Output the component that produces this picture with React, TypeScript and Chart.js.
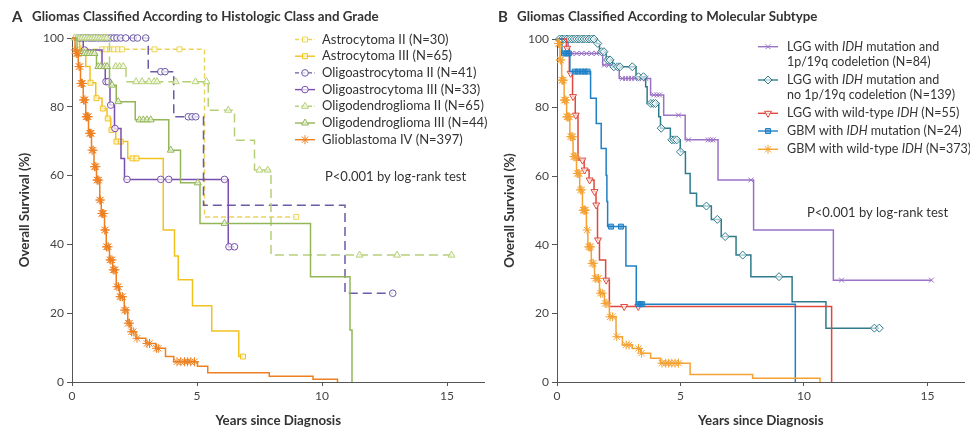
import React, { useEffect, useRef } from "react";
import { Chart, registerables } from "chart.js";
import { drawPoint } from "chart.js/helpers";

Chart.register(...registerables);

const FONT = "Lato, 'Noto Sans', sans-serif";
const TEXT = "#333333";
const AXIS = "#555555";

const xTickValues = [0, 5, 10, 15];
const yTickValues = [0, 20, 40, 60, 80, 100];
const xMax = 16.5;
const xTitle = "Years since Diagnosis";
const yTitle = "Overall Survival (%)";
const pText = "P<0.001 by log-rank test";

// ---------- Panel A: histologic class and grade ----------
const astro2T = [0, 0.35, 5.3, 8.97];
const astro2S = [100, 96.7, 48, 48];
const astro2C = [1.2, 1.37, 1.52, 1.68, 1.84, 2.0, 3.3, 4.3, 8.97];

const astro3T = [0, 0.3, 0.55, 0.72, 0.95, 1.2, 1.4, 1.55, 1.75, 2.23, 3.65, 4.1, 4.25, 4.82, 5.59, 6.67, 6.84];
const astro3S = [100, 96.9, 91.7, 87, 82.5, 79.5, 76.6, 73.3, 69.9, 65, 44.2, 36.6, 29.7, 22.2, 14.8, 7.4, 7.4];
const astro3C = [0.74, 0.98, 1.23, 1.43, 1.58, 1.78, 1.95, 2.42, 2.58, 6.84];

const oastro2T = [0, 3.05, 4.07, 5.26, 10.92, 12.83];
const oastro2S = [100, 90.2, 77.1, 51.4, 25.8, 25.8];
const oastro2C = [0.3, 0.42, 0.55, 0.68, 0.8, 0.92, 1.05, 1.18, 1.3, 1.42, 1.55, 1.68, 1.8, 1.95, 2.15, 2.45, 2.62, 2.95, 3.55, 3.72, 4.65, 4.8, 4.95, 12.83];

const oastro3T = [0, 0.45, 1.2, 1.33, 1.52, 1.7, 1.96, 2.1, 6.25, 6.5];
const oastro3S = [100, 96.5, 91.7, 87.3, 80.5, 73.7, 65, 58.9, 39.3, 39.3];
const oastro3C = [0.5, 1.36, 1.45, 1.55, 1.72, 2.2, 3.55, 3.87, 6.1, 6.28, 6.5];

const odendro2T = [0, 1.5, 2.16, 5.45, 6.5, 7.3, 7.96, 15.18];
const odendro2S = [100, 91.7, 87.3, 79, 70.3, 61.6, 36.9, 36.9];
const odendro2C = [0.1, 0.2, 0.3, 0.4, 0.5, 0.6, 0.7, 0.8, 0.9, 1.0, 1.1, 1.2, 1.3, 1.4, 1.75, 1.9, 2.05, 2.56, 2.8, 3.08, 3.28, 3.4, 4.15, 4.94, 5.38, 6.25, 7.5, 7.83, 11.5, 13.0, 15.18];

const odendro3T = [0, 0.2, 0.98, 1.5, 1.77, 2.53, 3.87, 4.34, 5.12, 9.54, 11.12, 11.2];
const odendro3S = [100, 95.5, 91.7, 86.3, 81.5, 76.2, 67.4, 57.9, 46.1, 30.6, 15.1, 0];
const odendro3C = [0.3, 0.4, 0.5, 0.6, 0.7, 0.8, 0.9, 1.05, 1.15, 1.3, 1.4, 1.6, 1.85, 2.7, 2.85, 3.0, 3.15, 3.95, 5.03, 6.1];

const glioT = [0, 0.12, 0.16, 0.25, 0.34, 0.45, 0.55, 0.66, 0.78, 0.88, 0.98, 1.11, 1.17, 1.3, 1.37, 1.5, 1.63, 1.77, 1.9, 2.09, 2.23, 2.36, 2.56, 2.95, 3.35, 3.74, 4.07, 5.02, 5.43, 7.89, 9.64, 10.62];
const glioS = [100, 96.5, 95.5, 91.7, 86.8, 82, 77.1, 72.3, 67.4, 62.6, 58.7, 52.9, 49, 44.2, 39.3, 35.5, 32.6, 27.7, 24.8, 20.9, 17.1, 14.6, 12.7, 11.2, 9.8, 7.4, 5.9, 4.6, 2.7, 1.7, 0.8, 0];
const glioC = [0.13, 0.17, 0.2, 0.24, 0.28, 0.32, 0.36, 0.38, 0.42, 0.46, 0.48, 0.52, 0.56, 0.58, 0.62, 0.65, 0.7, 0.74, 0.77, 0.8, 0.85, 0.9, 0.92, 0.96, 1.0, 1.02, 1.07, 1.11, 1.14, 1.19, 1.22, 1.27, 1.31, 1.33, 1.38, 1.4, 1.45, 1.52, 1.55, 1.6, 1.65, 1.68, 1.72, 1.8, 1.86, 1.92, 1.95, 2.02, 2.1, 2.15, 2.25, 2.3, 2.38, 2.45, 2.6, 3.0, 3.1, 3.38, 3.45, 4.2, 4.35, 4.5, 4.62, 4.75, 4.9];

// ---------- Panel B: molecular subtype ----------
const codelT = [0, 0.45, 1.85, 2.52, 3.79, 4.32, 5.19, 6.52, 7.96, 11.19, 15.16];
const codelS = [100, 95.8, 92.4, 88.5, 83.7, 77.8, 70.6, 58.9, 44.3, 29.7, 29.7];
const codelC = [0.6, 0.8, 1.0, 1.2, 1.4, 1.6, 1.92, 2.1, 2.65, 2.78, 2.9, 3.02, 3.15, 3.3, 3.45, 3.6, 3.92, 4.05, 4.15, 4.92, 5.32, 6.12, 6.22, 6.32, 7.85, 11.52, 15.16];

const nocodelT = [0, 1.6, 1.72, 1.99, 2.25, 3.2, 3.59, 3.65, 4.12, 4.19, 4.59, 4.99, 5.2, 5.39, 5.65, 6.25, 6.65, 7.25, 7.85, 9.52, 10.89, 13.05];
const nocodelS = [100, 98.7, 96.3, 93.9, 91.9, 89, 86.1, 81.2, 77.3, 74, 70.6, 67.1, 60.8, 55, 51.3, 47.4, 42.4, 37, 30.7, 23.4, 15.7, 15.7];
const nocodelC = [0.1, 0.2, 0.3, 0.4, 0.5, 0.6, 0.7, 0.8, 0.9, 1.0, 1.1, 1.2, 1.3, 1.4, 1.5, 1.65, 1.8, 1.9, 2.05, 2.15, 2.3, 2.45, 2.55, 3.05, 3.3, 3.5, 3.8, 3.9, 3.99, 4.22, 4.65, 4.75, 4.85, 5.0, 6.05, 6.49, 6.81, 7.52, 8.99, 12.85, 13.05];

const wtT = [0, 0.38, 0.5, 0.63, 0.74, 0.85, 1.1, 1.3, 1.5, 1.58, 1.64, 1.72, 1.97, 2.12, 11.12];
const wtS = [100, 97.3, 90, 83.2, 77.8, 64.7, 61.8, 58.9, 55.5, 51.6, 41.4, 35.6, 29.7, 22.0, 0];
const wtC = [0.41, 0.55, 0.65, 0.76, 1.03, 1.12, 1.32, 1.52, 1.59, 1.66, 1.99, 2.72, 3.29];

const gbmMutT = [0, 0.2, 0.52, 1.36, 1.59, 1.79, 1.99, 2.02, 2.05, 2.79, 3.21, 9.65];
const gbmMutS = [100, 95.8, 90.5, 82.7, 75.4, 68.1, 60.3, 52.6, 45.3, 33.8, 22.7, 0];
const gbmMutC = [0.28, 0.38, 0.48, 0.72, 0.85, 1.0, 1.12, 1.24, 2.19, 2.59, 3.3, 3.38, 3.45];

const gbmWtT = [0, 0.04, 0.12, 0.19, 0.29, 0.39, 0.52, 0.65, 0.79, 0.92, 1.03, 1.19, 1.25, 1.39, 1.52, 1.72, 1.92, 2.12, 2.39, 2.65, 3.05, 3.39, 3.79, 4.19, 5.39, 7.92, 10.65];
const gbmWtS = [100, 98.7, 93.9, 88, 82.2, 77.3, 71.5, 65.7, 60.8, 56, 50.1, 44.3, 39.4, 34.6, 30.2, 25.9, 22.9, 19, 13.2, 10.8, 9.8, 8.4, 6.9, 5.5, 2.2, 1.1, 0];
const gbmWtC = [0.06, 0.1, 0.13, 0.15, 0.2, 0.22, 0.26, 0.3, 0.32, 0.36, 0.4, 0.42, 0.46, 0.5, 0.55, 0.6, 0.64, 0.68, 0.72, 0.76, 0.82, 0.86, 0.9, 0.95, 1.0, 1.06, 1.1, 1.12, 1.15, 1.22, 1.28, 1.32, 1.36, 1.42, 1.47, 1.55, 1.62, 1.68, 1.76, 1.83, 1.95, 2.02, 2.15, 2.25, 2.42, 2.8, 2.92, 3.3, 3.42, 4.25, 4.4, 4.52, 4.65, 4.78, 4.92];

type Curve = {
  label: string[];
  T: number[];
  S: number[];
  C: number[];
  color: string;
  dash: number[];
  style: any;
  rotation?: number;
  radius: number;
  fill: string;
};

const curvesA: Curve[] = [
  { label: ["Astrocytoma II (N=30)"], T: astro2T, S: astro2S, C: astro2C, color: "#eed45a", dash: [5, 3], style: "rect", radius: 3.5, fill: "rgba(255,255,240,0.7)" },
  { label: ["Astrocytoma III (N=65)"], T: astro3T, S: astro3S, C: astro3C, color: "#f1c11e", dash: [], style: "rect", radius: 3.5, fill: "rgba(255,250,220,0.7)" },
  { label: ["Oligoastrocytoma II (N=41)"], T: oastro2T, S: oastro2S, C: oastro2C, color: "#6c5aa6", dash: [9, 5], style: "circle", radius: 3.3, fill: "rgba(255,255,255,0.7)" },
  { label: ["Oligoastrocytoma III (N=33)"], T: oastro3T, S: oastro3S, C: oastro3C, color: "#7a4db0", dash: [], style: "circle", radius: 3.3, fill: "rgba(255,255,255,0.7)" },
  { label: ["Oligodendroglioma II (N=65)"], T: odendro2T, S: odendro2S, C: odendro2C, color: "#b6d07a", dash: [9, 5], style: "triangle", radius: 4, fill: "rgba(245,250,230,0.7)" },
  { label: ["Oligodendroglioma III (N=44)"], T: odendro3T, S: odendro3S, C: odendro3C, color: "#93b657", dash: [], style: "triangle", radius: 4, fill: "rgba(240,248,225,0.7)" },
  { label: ["Glioblastoma IV (N=397)"], T: glioT, S: glioS, C: glioC, color: "#ee8022", dash: [], style: "star", radius: 4.5, fill: "#ee8022" },
];

const curvesB: Curve[] = [
  { label: ["LGG with _IDH_ mutation and", "1p/19q codeletion (N=84)"], T: codelT, S: codelS, C: codelC, color: "#9a72c6", dash: [], style: "crossRot", radius: 3.5, fill: "#9a72c6" },
  { label: ["LGG with _IDH_ mutation and", "no 1p/19q codeletion (N=139)"], T: nocodelT, S: nocodelS, C: nocodelC, color: "#2e7b8c", dash: [], style: "rectRot", radius: 4, fill: "rgba(255,255,255,0.6)" },
  { label: ["LGG with wild-type _IDH_ (N=55)"], T: wtT, S: wtS, C: wtC, color: "#e0483c", dash: [], style: "triangle", rotation: 180, radius: 4, fill: "rgba(255,255,255,0.7)" },
  { label: ["GBM with _IDH_ mutation (N=24)"], T: gbmMutT, S: gbmMutS, C: gbmMutC, color: "#1f80c6", dash: [], style: "rect", radius: 3.5, fill: "rgba(31,128,198,0.55)" },
  { label: ["GBM with wild-type _IDH_ (N=373)"], T: gbmWtT, S: gbmWtS, C: gbmWtC, color: "#f4a234", dash: [], style: "star", radius: 4.5, fill: "#f4a234" },
];

type Spec = {
  letter: string;
  title: string;
  curves: Curve[];
  width: number;
  left: number;
  yw: number;
  top: number;
  yTitlePad: number;
  letterX: number;
  titleX: number;
  titleY: number;
  legendX0: number;
  legendX1: number;
  legendTextX: number;
  legendY: number[];
  legendFont: number;
  lineGap: number;
  pX: number;
  pY: number;
};

const specA: Spec = {
  letter: "A",
  title: "Gliomas Classified According to Histologic Class and Grade",
  curves: curvesA,
  width: 490,
  left: 0,
  yw: 72,
  top: 38,
  yTitlePad: 17.5,
  letterX: 12,
  titleX: 32,
  titleY: 17,
  legendX0: 295,
  legendX1: 315,
  legendTextX: 322,
  legendY: [39.5, 56.2, 72.9, 89.6, 106.3, 123, 139.7],
  legendFont: 13,
  lineGap: 15,
  pX: 325,
  pY: 177,
};

const specB: Spec = {
  letter: "B",
  title: "Gliomas Classified According to Molecular Subtype",
  curves: curvesB,
  width: 480,
  left: 490,
  yw: 67,
  top: 39,
  yTitlePad: 12.5,
  letterX: 8,
  titleX: 27,
  titleY: 17,
  legendX0: 268,
  legendX1: 288,
  legendTextX: 297,
  legendY: [46.7, 80, 113.3, 131, 149.3],
  legendFont: 12.5,
  lineGap: 15,
  pX: 317,
  pY: 213,
};

function survAt(T: number[], S: number[], t: number) {
  let v = S[0];
  for (let i = 0; i < T.length; i++) if (T[i] <= t + 1e-9) v = S[i];
  return v;
}

function makeDatasets(curves: Curve[]) {
  const ds: any[] = [];
  const n = curves.length;
  curves.forEach((c, i) => {
    ds.push({
      type: "line",
      data: c.T.map((t, k) => ({ x: t, y: c.S[k] })),
      stepped: true,
      borderColor: c.color,
      borderWidth: 1.5,
      borderDash: c.dash,
      pointRadius: 0,
      fill: false,
      clip: false,
      order: (n - i) * 2,
    });
    ds.push({
      type: "line",
      showLine: false,
      data: c.C.map((t) => ({ x: t, y: survAt(c.T, c.S, t) })),
      pointStyle: c.style,
      pointRotation: c.rotation || 0,
      pointRadius: c.radius,
      pointBorderColor: c.color,
      pointBackgroundColor: c.fill,
      pointBorderWidth: 1,
      clip: false,
      order: (n - i) * 2 - 1,
    });
  });
  return ds;
}

function drawRich(ctx: CanvasRenderingContext2D, text: string, x: number, y: number, size: number) {
  const parts = text.split("_");
  let cx = x;
  parts.forEach((p, i) => {
    ctx.font = (i % 2 === 1 ? "italic " : "") + `${size}px ${FONT}`;
    ctx.fillText(p, cx, y);
    cx += ctx.measureText(p).width;
  });
}

function textPlugin(spec: Spec) {
  return {
    id: "panelText" + spec.letter,
    afterDraw(chart: any) {
      const ctx: CanvasRenderingContext2D = chart.ctx;
      ctx.save();
      ctx.textBaseline = "middle";
      ctx.textAlign = "left";
      ctx.fillStyle = TEXT;
      ctx.font = `bold 15px ${FONT}`;
      ctx.fillText(spec.letter, spec.letterX, spec.titleY);
      ctx.font = `bold 13.3px ${FONT}`;
      ctx.fillText(spec.title, spec.titleX, spec.titleY);

      spec.curves.forEach((c, i) => {
        const y = spec.legendY[i];
        ctx.save();
        ctx.strokeStyle = c.color;
        ctx.lineWidth = 1.4;
        ctx.setLineDash(c.dash.length ? [4, 2.5] : []);
        ctx.beginPath();
        ctx.moveTo(spec.legendX0, y);
        ctx.lineTo(spec.legendX1, y);
        ctx.stroke();
        ctx.setLineDash([]);
        ctx.fillStyle = c.fill;
        ctx.strokeStyle = c.color;
        ctx.lineWidth = 1;
        drawPoint(ctx, { pointStyle: c.style, rotation: c.rotation || 0, radius: c.radius, borderWidth: 1 } as any, (spec.legendX0 + spec.legendX1) / 2, y);
        ctx.restore();
        ctx.fillStyle = TEXT;
        c.label.forEach((line, j) => drawRich(ctx, line, spec.legendTextX, y + j * spec.lineGap, spec.legendFont));
      });

      ctx.fillStyle = TEXT;
      ctx.font = `13px ${FONT}`;
      ctx.fillText(pText, spec.pX, spec.pY);
      ctx.restore();
    },
  };
}

function buildConfig(spec: Spec): any {
  return {
    type: "line",
    data: { datasets: makeDatasets(spec.curves) },
    options: {
      animation: false,
      responsive: false,
      events: [],
      layout: { padding: { top: spec.top, right: 1, left: 0, bottom: 0 } },
      plugins: {
        legend: { display: false },
        title: { display: false },
        tooltip: { enabled: false },
      },
      scales: {
        x: {
          type: "linear",
          min: 0,
          max: xMax,
          afterBuildTicks: (s: any) => {
            s.ticks = xTickValues.map((v) => ({ value: v }));
          },
          afterFit: (s: any) => {
            s.height = 48;
          },
          grid: { display: true, drawOnChartArea: false, drawTicks: true, tickLength: 4, color: AXIS, lineWidth: 1 },
          border: { display: true, color: AXIS, width: 1 },
          ticks: { color: "#444", font: { family: FONT, size: 12 }, padding: 3, maxRotation: 0, autoSkip: false },
          title: { display: true, text: xTitle, color: TEXT, font: { family: FONT, size: 13.3, weight: "bold" }, padding: { top: 0, bottom: 1.5 } },
        },
        y: {
          type: "linear",
          min: 0,
          max: 100,
          afterBuildTicks: (s: any) => {
            s.ticks = yTickValues.map((v) => ({ value: v }));
          },
          afterFit: (s: any) => {
            s.width = spec.yw;
          },
          grid: { display: true, drawOnChartArea: false, drawTicks: true, tickLength: 5, color: AXIS, lineWidth: 1 },
          border: { display: true, color: AXIS, width: 1 },
          ticks: { color: "#444", font: { family: FONT, size: 12 }, padding: 3, autoSkip: false },
          title: { display: true, text: yTitle, color: TEXT, font: { family: FONT, size: 13.3, weight: "bold" }, padding: { top: spec.yTitlePad - 0.5, bottom: 0 } },
        },
      },
    },
    plugins: [textPlugin(spec)],
  };
}

function Panel({ spec }: { spec: Spec }) {
  const ref = useRef<HTMLCanvasElement>(null);
  useEffect(() => {
    const chart = new Chart(ref.current as HTMLCanvasElement, buildConfig(spec));
    return () => chart.destroy();
  }, [spec]);
  return (
    <div style={{ position: "absolute", left: spec.left, top: 0, width: spec.width, height: 430 }}>
      <canvas ref={ref} width={spec.width} height={430} style={{ display: "block" }} />
    </div>
  );
}

export default function App() {
  return (
    <div style={{ position: "fixed", left: 0, top: 0, width: 970, height: 430, background: "#ffffff", overflow: "hidden" }}>
      <Panel spec={specA} />
      <Panel spec={specB} />
    </div>
  );
}
